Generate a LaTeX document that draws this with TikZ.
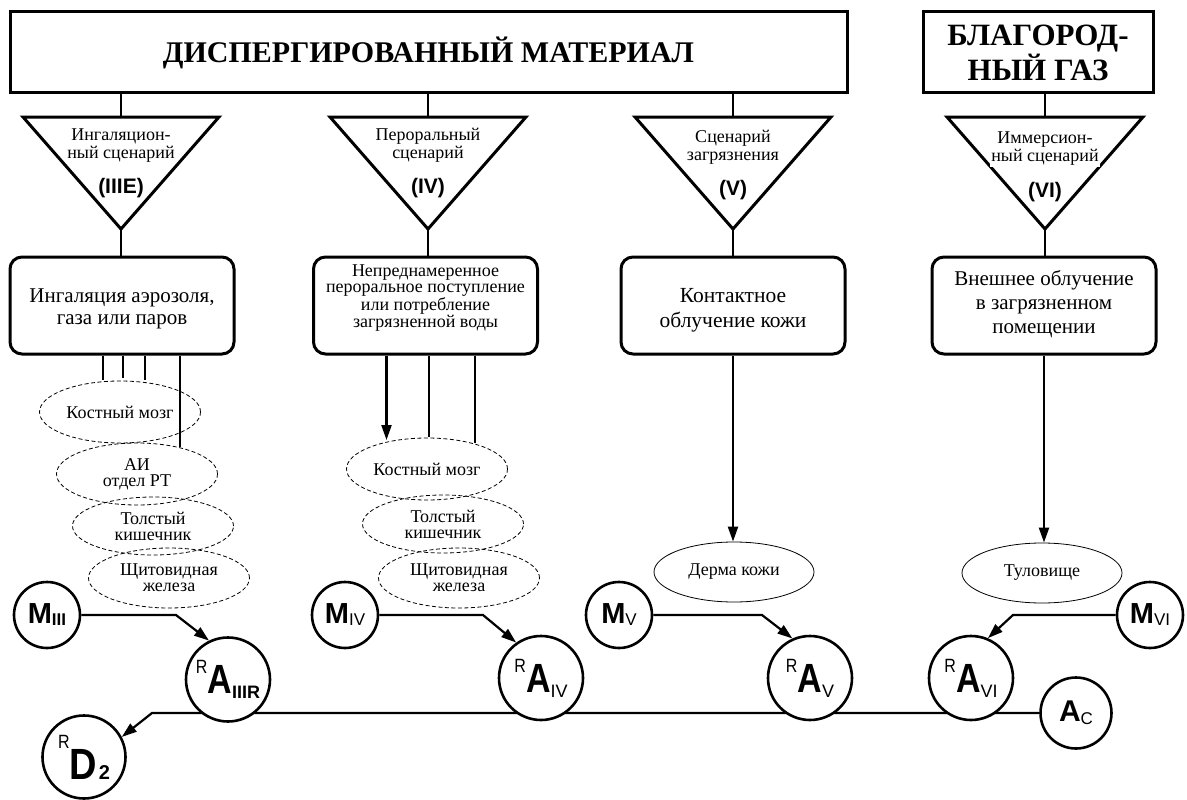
\documentclass[tikz,border=0pt]{standalone}
\usepackage{fontspec}
\setmainfont{Liberation Serif}
\newfontfamily\ars{Liberation Sans}
\usetikzlibrary{arrows.meta,shapes.geometric,backgrounds}
\newcommand{\fs}[2]{\fontsize{#1}{#2}\selectfont}
\newcommand{\ML}[2]{{\ars\bfseries\fs{29}{29}M}{\ars#1\fs{17}{17}\raisebox{-2pt}{#2}}}
\newcommand{\AL}[2]{{\ars\fs{16}{16}\raisebox{20pt}{\scalebox{1}[1.2]{R}}}{\ars\bfseries\fs{34}{34}\scalebox{1}[1.2]{A}}{\ars#1\fs{18}{18}\raisebox{-5pt}{#2}}}
\begin{document}
\begin{tikzpicture}[x=1pt,y=-1pt,
  hdr/.style={draw,line width=3pt,inner sep=0pt},
  tri/.style={draw,line width=3pt,line join=miter},
  sbox/.style={draw,line width=3pt,rounded corners=12pt,minimum width=224pt,minimum height=97pt,inner sep=0pt},
  btxt/.style={align=center,inner sep=0pt},
  conn/.style={line width=2.2pt},
  arr/.style={line width=2.2pt,-{Triangle[length=15pt,width=10pt]}},
  thinln/.style={line width=1.8pt},
  dell/.style={ellipse,draw,line width=0.8pt,dash pattern=on 4pt off 2.5pt,minimum width=161pt,minimum height=62pt,inner sep=0pt,font=\fs{18}{16},align=center},
  sell/.style={ellipse,draw,line width=0.8pt,minimum width=160pt,minimum height=60pt,inner sep=0pt,font=\fs{18}{16}},
  mc/.style={circle,draw,line width=2.6pt,minimum size=66pt,inner sep=0pt,fill=white},
  ac/.style={circle,draw,line width=2.6pt,minimum size=84pt,inner sep=0pt,fill=white},
  ttxt/.style={fill=white,inner xsep=1.5pt,inner ysep=1pt,font=\fs{18}{18},align=center},
  tlab/.style={inner sep=1pt,font=\ars\bfseries\fs{21}{21}}
]
\useasboundingbox (0,0) rectangle (1187,800);

% header boxes
\node[hdr,minimum width=837pt,minimum height=81pt,font=\bfseries\fs{30}{30}] (dm) at (428.5,52.5) {ДИСПЕРГИРОВАННЫЙ МАТЕРИАЛ};
\node[hdr,minimum width=230pt,minimum height=81pt,align=center,font=\bfseries\fs{31}{35}] (ng) at (1038,52.5) {БЛАГОРОД-\\НЫЙ ГАЗ};

% triangles
\draw[tri] (23,117) -- (219,117) -- (121,229) coordinate (t1apex) -- cycle;
\draw[tri] (330,117) -- (526,117) -- (428,229) coordinate (t2apex) -- cycle;
\draw[tri] (635,117) -- (831,117) -- (733,229) coordinate (t3apex) -- cycle;
\draw[tri] (947,117) -- (1143,117) -- (1045,229) coordinate (t4apex) -- cycle;
\coordinate (t1top) at (121,117);
\coordinate (t2top) at (428,117);
\coordinate (t3top) at (733,117);
\coordinate (t4top) at (1045,117);
\draw[conn] (dm.south -| t1top) -- (t1top);
\draw[conn] (dm.south -| t2top) -- (t2top);
\draw[conn] (dm.south -| t3top) -- (t3top);
\draw[conn] (ng.south -| t4top) -- (t4top);

\node[ttxt] (t1a) at (121,146) {Ингаляцион-\\ный сценарий};
\node[tlab] (t1b) at (121,188) {(IIIE)};
\node[ttxt] (t2a) at (428,145) {Пероральный\\сценарий};
\node[tlab] (t2b) at (428,188) {(IV)};
\node[ttxt] (t3a) at (733,147) {Сценарий\\загрязнения};
\node[tlab] (t3b) at (733,190) {(V)};
\node[ttxt] (t4a) at (1045,149) {Иммерсион-\\ный сценарий};
\node[tlab] (t4b) at (1045,192) {(VI)};

% scenario boxes
\node[sbox] (b1) at (122,305.5) {};
\node[sbox] (b2) at (425.5,305.5) {};
\node[sbox] (b3) at (733,305.5) {};
\node[sbox] (b4) at (1044,305.5) {};
\node[btxt,font=\fs{21}{22}] (b1t) at (122,309) {Ингаляция аэрозоля,\\газа или паров};
\node[btxt,font=\fs{18}{16}] (b2t) at (425.5,298) {Непреднамеренное\\пероральное поступление\\или потребление\\загрязненной воды};
\node[btxt,font=\fs{21.5}{25}] (b3t) at (733,310) {Контактное\\облучение кожи};
\node[btxt,font=\fs{21}{24}] (b4t) at (1044,304) {Внешнее облучение\\в загрязненном\\помещении};

\draw[conn] (t1apex) -- (t1apex |- b1.north);
\draw[conn] (t2apex) -- (t2apex |- b2.north);
\draw[conn] (t3apex) -- (t3apex |- b3.north);
\draw[conn] (t4apex) -- (t4apex |- b4.north);

% organ ellipses (inhalation)
\node[dell] (e11) at (120,412) {Костный мозг};
\node[dell] (e12) at (137,474) {АИ\\отдел РТ};
\node[dell,minimum height=58pt] (e13) at (153,526) {Толстый\\кишечник};
\node[dell,minimum height=60pt] (e14) at (169,578) {Щитовидная\\железа};
\coordinate (s1) at (102.6,380);
\coordinate (s2) at (123,378);
\coordinate (s3) at (145,380);
\coordinate (s4) at (180,447);
\draw[thinln] (b1.south -| s1) -- (s1);
\draw[thinln] (b1.south -| s2) -- (s2);
\draw[thinln] (b1.south -| s3) -- (s3);
\draw[thinln] (b1.south -| s4) -- (s4);

% organ ellipses (oral)
\node[dell] (e21) at (427,469) {Костный мозг};
\node[dell,minimum height=58pt] (e22) at (443,524) {Толстый\\кишечник};
\node[dell,minimum height=60pt] (e23) at (459,578) {Щитовидная\\железа};
\coordinate (u1) at (386.5,440);
\coordinate (u2) at (428.6,437);
\coordinate (u3) at (475,443);
\draw[arr] (b2.south -| u1) -- (u1);
\draw[thinln] (b2.south -| u2) -- (u2);
\draw[thinln] (b2.south -| u3) -- (u3);

% skin / body
\node[sell] (e3) at (734,572) {Дерма кожи};
\node[sell] (e4) at (1042,573) {Туловище};
\draw[arr] (b3.south) -- (b3.south |- e3.north);
\draw[arr] (b4.south) -- (b4.south |- e4.north);

% circles
\node[mc] (m3) at (47,615) {\ML{\bfseries}{III}};
\node[mc] (m4) at (345,615) {\ML{}{IV}};
\node[mc] (m5) at (619,615) {\ML{}{V}};
\node[mc] (m6) at (1150,615) {\ML{}{VI}};
\node[ac] (a3) at (228,679.5) {\AL{\bfseries}{IIIR}};
\node[ac] (a4) at (541,678) {\AL{}{IV}};
\node[ac] (a5) at (810,678) {\AL{}{V}};
\node[ac] (a6) at (971,678) {\AL{}{VI}};
\node[circle,draw,line width=2.6pt,minimum size=71pt,inner sep=0pt,fill=white] (acn) at (1076,713) {{\ars\bfseries\fs{30}{30}A}{\ars\fs{17}{17}\raisebox{-3pt}{C}}};
\node[circle,draw,line width=2.6pt,minimum size=83pt,inner sep=0pt,fill=white] (rd) at (84,757) {{\ars\fs{16}{16}\raisebox{31pt}{\scalebox{1}[1.2]{R}}}{\ars\bfseries\fs{38}{38}\scalebox{1}[1.15]{D}}\,{\ars\bfseries\fs{20}{20}2}};

\coordinate (k3) at (176,615);
\coordinate (k4) at (483,615);
\coordinate (k5) at (762,615);
\coordinate (k6) at (1013,615);
\draw[arr] (m3.east) -- (k3) -- (a3.116);
\draw[arr] (m4.east) -- (k4) -- (a4.125);
\draw[arr] (m5.east) -- (k5) -- (a5.114);
\draw[arr] (m6.west) -- (k6) -- (a6.67);

\coordinate (kb) at (152,713);
\begin{scope}[on background layer]
\draw[arr] (acn.west) -- (kb) -- (rd.28);
\end{scope}
\end{tikzpicture}
\end{document}
